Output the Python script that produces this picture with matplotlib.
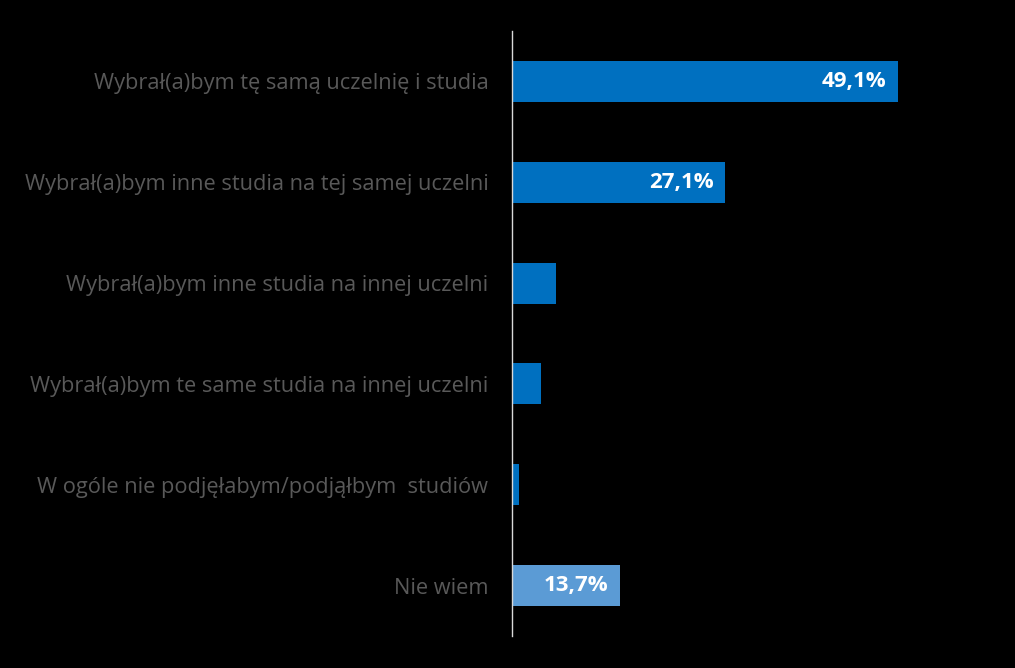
import matplotlib.pyplot as plt

# answers to "would you choose the same again?"
categories = [
    "Wybrał(a)bym tę samą uczelnię i studia",
    "Wybrał(a)bym inne studia na tej samej uczelni",
    "Wybrał(a)bym inne studia na innej uczelni",
    "Wybrał(a)bym te same studia na innej uczelni",
    "W ogóle nie podjęłabym/podjąłbym  studiów",
    "Nie wiem",
]
values = [49.1, 27.1, 5.6, 3.7, 0.9, 13.7]
value_labels = ["49,1%", "27,1%", "", "", "", "13,7%"]
colors = ["#0070C0", "#0070C0", "#0070C0", "#0070C0", "#0070C0", "#5B9BD5"]

W, H = 1015, 668
fig = plt.figure(figsize=(W / 100, H / 100), dpi=100, facecolor="black")
ax = fig.add_axes([512 / W, 32 / H, 488 / W, 605 / H], facecolor="black")

pos = list(range(len(categories)))[::-1]
ax.barh(pos, values, height=0.405, color=colors)

for p, v, lab in zip(pos, values, value_labels):
    if lab:
        ax.text(v - 1.4, p, lab, ha="right", va="center", color="white",
                fontsize=16, fontweight="bold", family="Open Sans")

ax.set_xlim(0, 488 / 7.855)
ax.set_ylim(-0.5, len(categories) - 0.5)
ax.set_yticks(pos)
ax.set_yticklabels(categories, color="#595959", fontsize=15.7, family="Open Sans")
ax.tick_params(axis="y", length=0, pad=17)
ax.set_xticks([])
for s in ["top", "right", "bottom"]:
    ax.spines[s].set_visible(False)
ax.spines["left"].set_color("#d9d9d9")
ax.spines["left"].set_linewidth(1)

fig.savefig("out.png", dpi=100, facecolor="black")
